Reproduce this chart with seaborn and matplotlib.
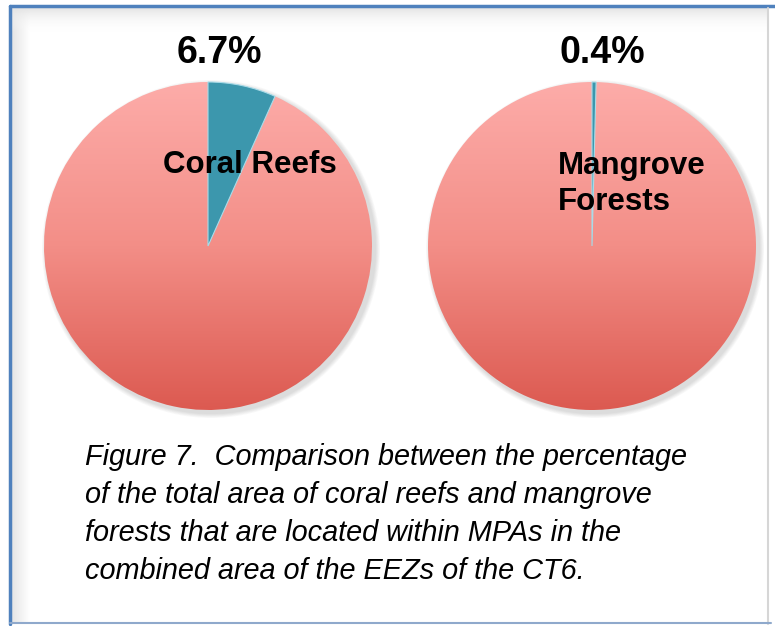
import numpy as np
import matplotlib.pyplot as plt
import seaborn as sns
from matplotlib.colors import LinearSegmentedColormap
from matplotlib.patches import Circle

sns.set_style("white")
plt.rcParams['font.family'] = ['Liberation Sans', 'DejaVu Sans']
plt.rcParams['text.color'] = 'black'

# data
habitats = ["Coral Reefs", "Mangrove\nForests"]
pct_in_mpa = [6.7, 0.4]
pct_labels = ["6.7%", "0.4%"]
caption_lines = [
    "Figure 7.  Comparison between the percentage",
    "of the total area of coral reefs and mangrove",
    "forests that are located within MPAs in the",
    "combined area of the EEZs of the CT6.",
]

W, H = 775, 626
fig = plt.figure(figsize=(W / 100, H / 100), dpi=100)
ax = fig.add_axes([0, 0, 1, 1])

pink = LinearSegmentedColormap.from_list("pinkred", ["#fdaca9", "#f38e87", "#dc5a51"])
grad = np.linspace(0, 1, 256).reshape(-1, 1)

centers = [(208, 626 - 246), (592, 626 - 246)]
radius = 164

for (cx, cy), pct in zip(centers, pct_in_mpa):
    # soft shadow
    for k in range(6):
        ax.add_patch(Circle((cx + 3, cy - 3), radius + 1 + k * 0.8,
                            color="#555555", alpha=0.035, lw=0, zorder=1))
    wedges, _ = ax.pie([pct, 100 - pct], center=(cx, cy), radius=radius,
                       startangle=90, counterclock=False, frame=True,
                       colors=["#3c97ad", "none"],
                       wedgeprops=dict(edgecolor="none", zorder=3))
    wedges[0].set_edgecolor("#a9dbe8")
    wedges[0].set_linewidth(0.8)
    img = ax.imshow(grad, cmap=pink, aspect="auto", origin="upper",
                    extent=[cx - radius, cx + radius, cy - radius, cy + radius],
                    zorder=2)
    img.set_clip_path(wedges[1])

# percentage labels
for (cx, cy), lab, dx in zip(centers, pct_labels, [11, 10]):
    ax.text(cx + dx, 626 - 53, lab, ha="center", va="center",
            fontsize=27, fontweight="bold", color="black", zorder=5)

# habitat labels
ax.text(250, 626 - 165, habitats[0], ha="center", va="center",
        fontsize=22.5, fontweight="bold", color="black", zorder=5)
ax.text(558, 626 - 184, habitats[1], ha="left", va="center",
        fontsize=22.5, fontweight="bold", color="black",
        linespacing=1.3, zorder=5)

# caption
for i, line in enumerate(caption_lines):
    ax.text(85, 626 - (465 + 38 * i), line, ha="left", va="baseline",
            fontsize=20.8, fontstyle="italic", color="black", zorder=5)

# frame with inner shadow
band = np.linspace(0, 1, 64).reshape(-1, 1)
gray = LinearSegmentedColormap.from_list("g", ["#e4e4e4", "#ffffff"])
gray_a = LinearSegmentedColormap.from_list("ga", [(0.89, 0.89, 0.89, 1), (1, 1, 1, 0)])
ax.imshow(band.T, cmap=gray, aspect="auto", origin="upper",
          extent=[11, 30, 3, 626 - 7], zorder=0)
ax.imshow(band, cmap=gray_a, aspect="auto", origin="upper",
          extent=[11, 768, 626 - 32, 626 - 7], zorder=0.5)
ax.plot([10, 10], [2, 626 - 6], color="#4f81bd", lw=2.5, zorder=6)
ax.plot([10, 775], [626 - 6, 626 - 6], color="#4f81bd", lw=2.5, zorder=6)
ax.plot([768, 768], [2, 626 - 8], color="#d6d6d6", lw=1.5, zorder=6)
ax.plot([10, 771], [3, 3], color="#8fa9cc", lw=1.5, zorder=6)

ax.set_xlim(0, W)
ax.set_ylim(0, H)
ax.set_aspect("auto")
ax.axis("off")

fig.savefig("out.png", dpi=100, facecolor="white")
